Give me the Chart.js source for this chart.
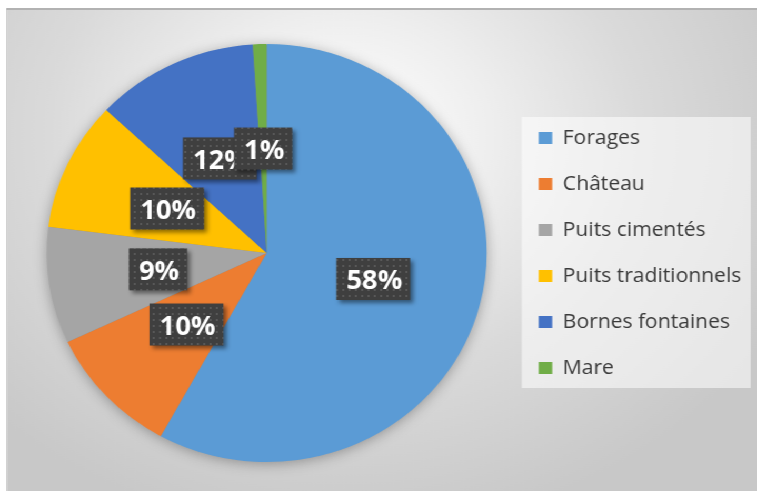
<!DOCTYPE html>
<html>
<head>
<meta charset="utf-8">
<script src="https://cdn.jsdelivr.net/npm/chart.js@4.4.1/dist/chart.umd.min.js"></script>
<style>
  html, body { margin: 0; padding: 0; background: #fff; overflow: hidden; }
  /* the whole panel is drawn slightly narrower, then widened */
  #wrap { position: absolute; left: 0; top: 0; width: 719px; height: 491px;
          transform: scaleX(1.0529); transform-origin: 0 0; }
  #frame { position: absolute; left: 6px; top: 8px; width: 740px; height: 500px;
           border-top: 2px solid #b2b2b2; border-left: 1px solid #bdbdbd;
           background: radial-gradient(ellipse 470px 400px at 320px 125px,
                       #ffffff 0%, #eeeeee 30%, #dadada 60%, #c8c8c8 100%); }
  canvas { position: absolute; left: 0; top: 0; }
</style>
</head>
<body>
<div id="wrap">
  <div id="frame"></div>
  <canvas id="pieChart" width="719" height="491"></canvas>
</div>
<script>
const categories = ["Forages", "Château", "Puits cimentés", "Puits traditionnels", "Bornes fontaines", "Mare"];
const shares = [58, 10, 9, 10, 12, 1];
const sliceColors = ["#5B9BD5", "#ED7D31", "#A5A5A5", "#FFC000", "#4472C4", "#70AD47"];

// dark dotted fill used behind the percentage tags
function dotPattern(ctx) {
  const tile = document.createElement("canvas");
  tile.width = 6;
  tile.height = 6;
  const t = tile.getContext("2d");
  t.fillStyle = "#3f3f3f";
  t.fillRect(0, 0, 6, 6);
  t.fillStyle = "#585858";
  t.fillRect(1, 1, 2, 2);
  return ctx.createPattern(tile, "repeat");
}

const pieShadow = {
  id: "pieShadow",
  beforeDatasetsDraw(chart) {
    const arc = chart.getDatasetMeta(0).data[0];
    if (!arc) return;
    const ctx = chart.ctx;
    ctx.save();
    ctx.shadowColor = "rgba(0,0,0,0.35)";
    ctx.shadowBlur = 14;
    ctx.shadowOffsetY = 2;
    ctx.fillStyle = "#888";
    ctx.beginPath();
    ctx.arc(arc.x, arc.y, arc.outerRadius - 1, 0, Math.PI * 2);
    ctx.fill();
    ctx.restore();
  }
};

const legendPanel = {
  id: "legendPanel",
  beforeDraw(chart) {
    const lg = chart.legend;
    const boxes = lg.legendHitBoxes;
    if (!boxes || !boxes.length) return;
    const first = boxes[0];
    const last = boxes[boxes.length - 1];
    const ctx = chart.ctx;
    ctx.save();
    ctx.fillStyle = "rgba(255,255,255,0.55)";
    ctx.fillRect(lg.left + 10, first.top - 11, lg.right - lg.left - 11,
                 last.top + last.height - first.top + 21);
    ctx.restore();
  }
};

const valueTags = {
  id: "valueTags",
  afterDatasetsDraw(chart) {
    const ctx = chart.ctx;
    const arcs = chart.getDatasetMeta(0).data;
    const fill = dotPattern(ctx);
    ctx.save();
    ctx.font = "bold 26px 'Open Sans'";
    ctx.textAlign = "center";
    ctx.textBaseline = "middle";
    arcs.forEach((arc, i) => {
      const text = shares[i] + "%";
      const p = arc.tooltipPosition();
      const w = ctx.measureText(text).width + 17;
      const h = 42;
      ctx.shadowColor = "rgba(0,0,0,0.45)";
      ctx.shadowBlur = 4;
      ctx.shadowOffsetX = 3;
      ctx.shadowOffsetY = 3;
      ctx.fillStyle = fill;
      ctx.fillRect(p.x - w / 2, p.y - h / 2, w, h);
      ctx.shadowColor = "transparent";
      ctx.fillStyle = "#ffffff";
      ctx.fillText(text, p.x + 1, p.y + 3);
    });
    ctx.restore();
  }
};

new Chart(document.getElementById("pieChart"), {
  type: "pie",
  data: {
    labels: categories,
    datasets: [{
      data: shares,
      backgroundColor: sliceColors,
      borderWidth: 0
    }]
  },
  options: {
    responsive: false,
    animation: false,
    devicePixelRatio: 1,
    layout: { padding: { left: 21, right: 5, top: 44, bottom: 29 } },
    plugins: {
      tooltip: { enabled: false },
      legend: {
        position: "right",
        labels: {
          font: { family: "'Open Sans'", size: 20 },
          color: "#3a3a3a",
          boxWidth: 13,
          boxHeight: 12,
          padding: 26
        }
      }
    }
  },
  plugins: [legendPanel, pieShadow, valueTags]
});
</script>
</body>
</html>
